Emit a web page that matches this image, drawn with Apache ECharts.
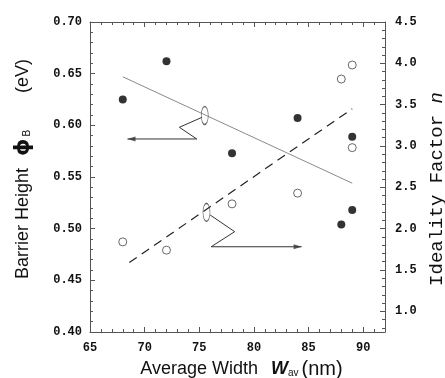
<!DOCTYPE html>
<html>
<head>
<meta charset="utf-8">
<script src="https://cdn.jsdelivr.net/npm/echarts@6/dist/echarts.min.js"></script>
<style>
  html, body { margin: 0; padding: 0; background: #fff; }
  #chart { width: 445px; height: 378px; }
</style>
</head>
<body>
<div id="chart"></div>
<script>
// ---- data ----
const widthPhi = [68, 72, 78, 84, 88, 89, 89];
const barrierHeight = [0.625, 0.662, 0.573, 0.607, 0.504, 0.589, 0.518];
const widthN = [68, 72, 78, 84, 88, 89, 89];
const idealityFactor = [1.84, 1.74, 2.30, 2.43, 3.81, 3.98, 2.98];

// fitted trend lines (end points)
const phiFitX = [68, 89];
const phiFitY = [0.647, 0.544];
const nFitX = [68.6, 89];
const nFitY = [1.59, 3.45];

// axis ticks / labels
const xLabelValues = [65, 70, 75, 80, 85, 90];
const xMinorValues = [66, 67, 68, 69, 71, 72, 73, 74, 76, 77, 78, 79, 81, 82, 83, 84, 86, 87, 88, 89, 91, 92];
const nLabelValues = [1.0, 1.5, 2.0, 2.5, 3.0, 3.5, 4.0, 4.5];
const nMinorValues = [0.8, 0.9, 1.1, 1.2, 1.3, 1.4, 1.6, 1.7, 1.8, 1.9, 2.1, 2.2, 2.3, 2.4, 2.6, 2.7, 2.8, 2.9,
  3.1, 3.2, 3.3, 3.4, 3.6, 3.7, 3.8, 3.9, 4.1, 4.2, 4.3, 4.4];

// annotation marks (in width / barrier-height units)
const leftOval = [75.5, 0.6095];
const leftZigX = [75.26, 73.18, 74.77, 68.43];
const leftZigY = [0.6078, 0.5981, 0.5868, 0.5868];
const rightOval = [75.66, 0.5158];
const rightZigX = [76.0, 78.24, 76.09, 84.37];
const rightZigY = [0.5132, 0.4971, 0.4825, 0.4825];

const zip = (a, b) => a.map((v, i) => [v, b[i]]);

const AX = '#555';
const TXT = '#111';
const tickFont = { color: TXT, fontFamily: 'Liberation Mono', fontWeight: 'bold', fontSize: 12 };
const titleFont = 'Liberation Sans';

const chart = echarts.init(document.getElementById('chart'), null, { renderer: 'canvas' });

const gridRect = { left: 90, right: 60, top: 22, bottom: 46, outerBoundsMode: 'none', containLabel: false };

function zigzag(zx, zy) {
  return {
    type: 'line', xAxisIndex: 0, yAxisIndex: 0, data: zip(zx, zy), symbol: 'none', silent: true,
    lineStyle: { color: '#333', width: 1 }, z: 3
  };
}

const leftEnd = [leftZigX[leftZigX.length - 1], leftZigY[leftZigY.length - 1]];
const rightEnd = [rightZigX[rightZigX.length - 1], rightZigY[rightZigY.length - 1]];

const option = {
  animation: false,
  backgroundColor: '#fff',
  grid: [Object.assign({}, gridRect), Object.assign({}, gridRect)],
  xAxis: [
    {
      gridIndex: 0, type: 'value', position: 'bottom', min: 65, max: 92,
      name: 'Average Width {w|W}{s|av}{p|(nm)}', nameLocation: 'middle', nameGap: 27,
      nameTextStyle: {
        color: TXT, fontFamily: titleFont, fontSize: 18, padding: [0, 0, 0, 8],
        rich: {
          w: { fontFamily: titleFont, fontSize: 18, fontWeight: 'bold', fontStyle: 'italic', color: TXT, padding: [0, 0, 0, 8] },
          s: { fontFamily: titleFont, fontSize: 10, color: TXT, padding: [8, 1, 0, 0] },
          p: { fontFamily: titleFont, fontSize: 20, color: TXT, padding: [0, 0, 0, 2] }
        }
      },
      axisLine: { show: true, onZero: false, lineStyle: { color: AX, width: 1 } },
      axisTick: { show: true, inside: true, length: 5, customValues: xLabelValues, lineStyle: { color: AX } },
      axisLabel: Object.assign({ customValues: xLabelValues, margin: 10, formatter: v => String(v) }, tickFont),
      splitLine: { show: false }
    },
    {
      gridIndex: 0, type: 'value', position: 'top', min: 65, max: 92,
      axisLine: { show: true, onZero: false, lineStyle: { color: AX, width: 1 } },
      axisTick: { show: true, inside: true, length: 5, customValues: xLabelValues, lineStyle: { color: AX } },
      axisLabel: { show: false }, splitLine: { show: false }
    },
    {
      gridIndex: 1, type: 'value', position: 'bottom', min: 65, max: 92,
      axisLine: { show: false },
      axisTick: { show: true, inside: true, length: 3, customValues: xMinorValues, lineStyle: { color: AX } },
      axisLabel: { show: false }, splitLine: { show: false }
    },
    {
      gridIndex: 1, type: 'value', position: 'top', min: 65, max: 92,
      axisLine: { show: false },
      axisTick: { show: true, inside: true, length: 3, customValues: xMinorValues, lineStyle: { color: AX } },
      axisLabel: { show: false }, splitLine: { show: false }
    }
  ],
  yAxis: [
    {
      gridIndex: 0, type: 'value', position: 'left', min: 0.40, max: 0.70, interval: 0.05,
      name: 'Barrier Height{phi|ϕ}{s|B}{e|(eV)}', nameLocation: 'middle', nameRotate: 90, nameGap: 56,
      nameTextStyle: {
        color: TXT, fontFamily: titleFont, fontSize: 18, padding: [0, 0, 0, 16],
        rich: {
          phi: { fontFamily: 'DejaVu Sans', fontSize: 22, fontWeight: 'bold', color: TXT, padding: [0, 0, 0, 12] },
          s: { fontFamily: titleFont, fontSize: 10, color: TXT, padding: [8, 0, 0, 2] },
          e: { fontFamily: titleFont, fontSize: 18, color: TXT, padding: [0, 0, 0, 37] }
        }
      },
      axisLine: { show: true, onZero: false, lineStyle: { color: AX, width: 1 } },
      axisTick: { show: true, inside: true, length: 5, lineStyle: { color: AX } },
      minorTick: { show: true, splitNumber: 5, length: 3, lineStyle: { color: AX } },
      axisLabel: Object.assign({ margin: 8, formatter: v => v.toFixed(2) }, tickFont),
      splitLine: { show: false }, minorSplitLine: { show: false }
    },
    {
      gridIndex: 0, type: 'value', position: 'right', min: 0.75, max: 4.5,
      name: 'Ideality Factor {n|n}', nameLocation: 'middle', nameRotate: 90, nameGap: 42,
      nameTextStyle: {
        color: TXT, fontFamily: 'Liberation Mono', fontSize: 19, padding: [0, 24, 0, 0],
        rich: {
          n: { fontFamily: 'Liberation Mono', fontSize: 19, fontStyle: 'italic', color: TXT }
        }
      },
      axisLine: { show: true, onZero: false, lineStyle: { color: AX, width: 1 } },
      axisTick: { show: true, inside: true, length: 5, customValues: nLabelValues, lineStyle: { color: AX } },
      axisLabel: Object.assign({ customValues: nLabelValues, margin: 10, formatter: v => v.toFixed(1) }, tickFont),
      splitLine: { show: false }
    },
    {
      gridIndex: 1, type: 'value', position: 'left', min: 0.40, max: 0.70, show: false
    },
    {
      gridIndex: 1, type: 'value', position: 'right', min: 0.75, max: 4.5,
      axisLine: { show: false },
      axisTick: { show: true, inside: true, length: 3, customValues: nMinorValues, lineStyle: { color: AX } },
      axisLabel: { show: false }, splitLine: { show: false }
    }
  ],
  series: [
    {
      name: 'phi fit', type: 'line', xAxisIndex: 0, yAxisIndex: 0, data: zip(phiFitX, phiFitY),
      symbol: 'none', silent: true, lineStyle: { color: '#8a8a8a', width: 1 }, z: 2
    },
    {
      name: 'n fit', type: 'line', xAxisIndex: 0, yAxisIndex: 1, data: zip(nFitX, nFitY),
      symbol: 'none', silent: true, lineStyle: { color: '#222', width: 1.2, type: [9, 6] }, z: 2
    },
    zigzag(leftZigX, leftZigY),
    zigzag(rightZigX, rightZigY),
    {
      name: 'arrowheads', type: 'scatter', xAxisIndex: 0, yAxisIndex: 0, silent: true,
      symbol: 'triangle', symbolSize: [5, 8],
      data: [
        { value: leftEnd, symbolRotate: 90, symbolOffset: [4, 0] },
        { value: rightEnd, symbolRotate: -90, symbolOffset: [-4, 0] }
      ],
      itemStyle: { color: '#333' }, z: 4
    },
    {
      name: 'ovals', type: 'scatter', xAxisIndex: 0, yAxisIndex: 0, data: [leftOval, rightOval],
      symbol: 'circle', symbolSize: [7, 18], silent: true,
      itemStyle: { color: 'rgba(0,0,0,0)', borderColor: '#444', borderWidth: 1 }, z: 4
    },
    {
      name: 'Barrier height', type: 'scatter', xAxisIndex: 0, yAxisIndex: 0,
      data: zip(widthPhi, barrierHeight), symbol: 'circle', symbolSize: 8,
      itemStyle: { color: '#000' }, z: 5
    },
    {
      name: 'Ideality factor', type: 'scatter', xAxisIndex: 0, yAxisIndex: 1,
      data: zip(widthN, idealityFactor), symbol: 'circle', symbolSize: 8,
      itemStyle: { color: '#fff', borderColor: '#444', borderWidth: 1 }, z: 5
    }
  ]
};

chart.setOption(option);
</script>
</body>
</html>
